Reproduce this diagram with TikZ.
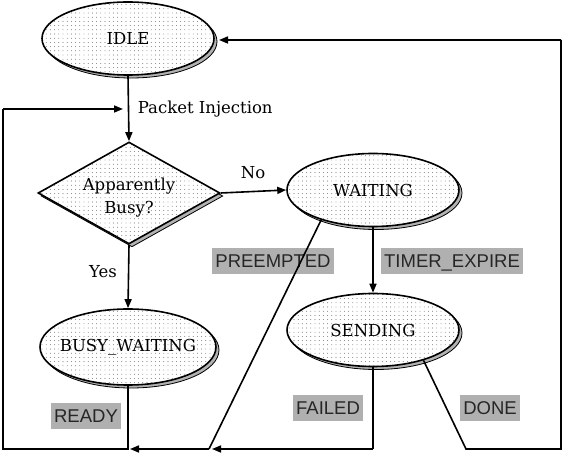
\documentclass[tikz,border=0pt]{standalone}
\usepackage{fontspec}
\setmainfont{DejaVu Serif}
\newfontfamily\labfont{Liberation Sans}
\usetikzlibrary{shapes.geometric,shadows,patterns.meta,arrows.meta}
\begin{document}
\begin{tikzpicture}[x=1pt,y=-1pt,
  line width=1.6pt,
  arr/.style={-{Triangle[length=9pt,width=7pt]}},
  state/.style={ellipse, draw, line width=1.6pt,
    drop shadow={shadow xshift=3pt, shadow yshift=-3pt, opacity=1, fill=gray!60, draw=black, line width=0.8pt},
    preaction={fill=white},
    pattern={Dots[distance=4.2pt, radius=0.42pt]}, pattern color=black!75,
    minimum width=172pt, minimum height=73pt, inner sep=0pt,
    font=\fontsize{16.5}{20}\selectfont},
  decide/.style={diamond, draw, line width=1.6pt,
    drop shadow={shadow xshift=3pt, shadow yshift=-3pt, opacity=1, fill=gray!60, draw=black, line width=0.8pt},
    preaction={fill=white},
    pattern={Dots[distance=4.2pt, radius=0.42pt]}, pattern color=black!75,
    minimum width=182pt, minimum height=102pt, inner sep=0pt, aspect=1.78,
    font=\fontsize{16.5}{20}\selectfont},
  lab/.style={fill=gray!62, text=black!85, font=\labfont\fontsize{18.5}{20}\selectfont,
    inner xsep=3pt, inner ysep=6.5pt, text height=13pt, text depth=0pt},
  txt/.style={font=\fontsize{16.5}{20}\selectfont, inner sep=0pt}]
\useasboundingbox (0,0) rectangle (563,454);

\node[state] (idle) at (128,38.5) {\makebox[0pt]{IDLE}};
\node[decide] (busy) at (129,193) {\makebox[0pt]{\raisebox{-21pt}[0pt][0pt]{\shortstack{Apparently\\[5pt]Busy?}}}};
\node[state] (wait) at (373,190) {\makebox[0pt]{WAITING}};
\node[state] (send) at (373,330) {\makebox[0pt]{SENDING}};
\node[state, minimum width=176pt, minimum height=76pt] (bw) at (128,347) {\makebox[0pt]{BUSY\_WAITING}};

\coordinate (pi) at (123,109);
\coordinate (c2) at (3,109);
\coordinate (c1) at (3,449);
\coordinate (r1) at (128,449);
\coordinate (rt) at (130,449);
\coordinate (p1) at (209,449);
\coordinate (pt) at (212,449);
\coordinate (f1) at (373,449);
\coordinate (d1) at (466,449);
\coordinate (d2) at (561,449);
\coordinate (d3) at (561,40);
\coordinate (it) at (219,40);

\node[txt, anchor=west] (pkt) at (137,109) {Packet Injection};
\node[txt] (no) at (253,173) {No};
\node[txt] (yes) at (103,272) {Yes};
\node[lab] (pre) at (273,261) {PREEMPTED};
\node[lab] (tim) at (452,261) {TIMER\_EXPIRE};
\node[lab] (rdy) at (86,416) {READY};
\node[lab] (fld) at (328,408) {FAILED};
\node[lab] (dne) at (490,408) {DONE};

\draw[arr] (idle.south) -- (busy.north);
\draw[arr] (busy.east) -- (wait.west);
\draw[arr] (busy.south) -- (bw.north);
\draw[arr] (wait.south) -- (send.north);
\draw (wait.210) -- (p1);
\draw[arr] (p1) -- (rt);
\draw (bw.south) -- (r1) -- (c1) -- (c2);
\draw[arr] (c2) -- (pi);
\draw (send.south) -- (f1);
\draw[arr] (f1) -- (pt);
\draw (send.329) -- (d1) -- (d2) -- (d3);
\draw[arr] (d3) -- (it);
\end{tikzpicture}
\end{document}
